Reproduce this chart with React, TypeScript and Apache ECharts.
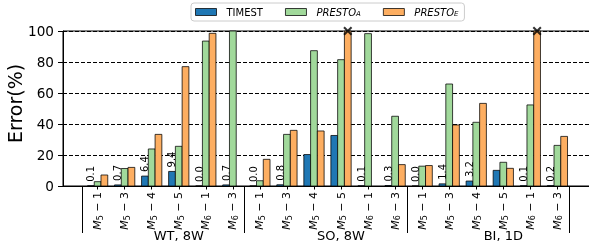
import React, { useEffect, useRef } from "react";
import * as echarts from "echarts";

const GROUPS = ["WT, 8W", "SO, 8W", "BI, 1D"];
const SUBCATS = ["M5-1", "M5-3", "M5-4", "M5-5", "M6-1", "M6-3"];
const CATEGORIES = GROUPS.flatMap(() => SUBCATS);

const TIMEST = [0.1, 0.7, 6.4, 9.4, 0.0, 0.7, 0.0, 0.8, 20.3, 32.6, 0.1, 0.3, 0.0, 1.4, 3.2, 10.1, 0.1, 0.2];
const PRESTO_A = [2.8, 11.3, 23.9, 25.6, 93.5, 100, 3.4, 33.3, 87.3, 81.5, 98.3, 45.0, 12.8, 65.8, 41.1, 15.3, 52.3, 26.2];
const PRESTO_E: (number | null)[] = [7.1, 12.0, 33.3, 77.0, 98.5, null, 17.2, 35.9, 35.5, 100, null, 13.8, 13.2, 39.4, 53.3, 11.4, 100, 32.0];
// indices of PRESTO_E bars that exceed the axis (marked with an x)
const OVERFLOW_E = [9, 16];

const Y_TICKS = [0, 20, 40, 60, 80, 100];
const GROUP_LABEL_AT = [3, 9, 15];
const SEPARATORS = [-0.56, 5.44, 11.44, 17.44];

const FONT = "DejaVu Sans";
const COLORS = ["#1f77b4", "#a1d99b", "#fdae61"];
const OFFSETS = [-0.25, 0, 0.25];
const BAR_W = 0.25;
const X_MIN = -1.28;
const X_MAX = 18.28;

function subLabel(s: string) {
  const [a, b] = s.slice(1).split("-");
  return `{m|M}{s|${a}}{t| − ${b}}`;
}

export default function App() {
  const ref = useRef<HTMLDivElement>(null);
  useEffect(() => {
    const chart = echarts.init(ref.current!, null, { renderer: "svg" });
    const idx = CATEGORIES.map((_, i) => i);
    const mkBar = (name: string, vals: (number | null)[], k: number, labels: boolean) => ({
      name,
      type: "custom",
      xAxisIndex: 0,
      yAxisIndex: 0,
      encode: { x: 0, y: 1 },
      itemStyle: { color: COLORS[k], borderColor: "rgba(0,0,0,0.75)", borderWidth: 1 },
      data: vals
        .map((v, i) => (v === null ? null : [i + OFFSETS[k], v, labels && v < 10 ? 1 : 0]))
        .filter((d) => d !== null),
      renderItem: (params: any, api: any) => {
        const x = api.value(0);
        const v = api.value(1);
        const show = api.value(2);
        const base = api.coord([x, 0]);
        const top = api.coord([x, v]);
        const w = api.size([BAR_W, 0])[0];
        const children: any[] = [
          {
            type: "rect",
            shape: { x: base[0] - w / 2, y: top[1], width: w, height: base[1] - top[1] },
            style: { fill: COLORS[k], stroke: "rgba(0,0,0,0.75)", lineWidth: 1 },
          },
        ];
        if (show) {
          children.push({
            type: "text",
            x: base[0],
            y: top[1] - 4,
            rotation: Math.PI / 2,
            style: {
              text: v.toFixed(1),
              align: "left",
              verticalAlign: "middle",
              fontSize: 10,
              fontFamily: FONT,
              fill: "#000",
            },
          });
        }
        return { type: "group", children };
      },
    });
    const option: any = {
      animation: false,
      textStyle: { fontFamily: FONT },
      grid: {
        left: 63,
        right: -3,
        top: 31,
        bottom: 62,
        outerBoundsMode: "none",
        containLabel: false,
        show: true,
        borderColor: "#000",
        borderWidth: 1,
        backgroundColor: "transparent",
      },
      legend: {
        left: 191,
        top: 3,
        padding: [4, 6, 4, 4],
        itemWidth: 21,
        itemHeight: 7,
        itemGap: 22,
        borderColor: "#cccccc",
        borderWidth: 1,
        borderRadius: 3,
        backgroundColor: "#fff",
        data: ["TIMEST", "PRESTO_A", "PRESTO_E"].map((n, k) => ({
          name: n,
          icon: "rect",
          itemStyle: { color: COLORS[k], borderColor: "rgba(0,0,0,0.75)", borderWidth: 1 },
        })),
        formatter: (name: string) =>
          name === "TIMEST" ? "{n|TIMEST}" : `{i|PRESTO}{s|${name.slice(-1)}}`,
        textStyle: {
          fontFamily: FONT,
          color: "#000",
          rich: {
            n: { fontSize: 10, fontFamily: FONT, padding: [0, 0, 0, 5], color: "#000" },
            i: { fontSize: 10, fontFamily: FONT, fontStyle: "italic", padding: [0, 0, 0, 5], color: "#000" },
            s: { fontSize: 7, fontFamily: FONT, fontStyle: "italic", verticalAlign: "bottom", lineHeight: 8, color: "#000" },
          },
        },
      },
      xAxis: [
        {
          type: "value",
          min: X_MIN,
          max: X_MAX,
          axisLine: { show: true, onZero: false, lineStyle: { color: "#000", width: 1 } },
          splitLine: { show: false },
          axisTick: { show: true, customValues: idx, length: 3.5, lineStyle: { color: "#000" } },
          axisLabel: {
            show: true,
            customValues: idx,
            rotate: 90,
            margin: 6,
            formatter: (v: number) => subLabel(CATEGORIES[Math.round(v)] || ""),
            rich: {
              m: { fontSize: 11, fontStyle: "italic", fontFamily: FONT, color: "#000", lineHeight: 13 },
              s: { fontSize: 8, fontFamily: FONT, color: "#000", verticalAlign: "bottom", lineHeight: 8 },
              t: { fontSize: 11, fontFamily: FONT, color: "#000", lineHeight: 13 },
            },
          },
        },
        {
          type: "value",
          min: X_MIN,
          max: X_MAX,
          position: "bottom",
          offset: 0,
          axisLine: { show: false, onZero: false },
          splitLine: { show: false },
          axisTick: { show: true, customValues: SEPARATORS, length: 47, lineStyle: { color: "#000", width: 1 } },
          axisLabel: { show: false },
        },
        {
          type: "value",
          min: X_MIN,
          max: X_MAX,
          position: "bottom",
          offset: 0,
          axisLine: { show: false, onZero: false },
          splitLine: { show: false },
          axisTick: { show: false },
          axisLabel: {
            show: true,
            customValues: GROUP_LABEL_AT,
            margin: 43,
            fontSize: 13,
            fontFamily: FONT,
            color: "#000",
            formatter: (v: number) => GROUPS[Math.round((v - 3) / 6)] || "",
          },
        },
      ],
      yAxis: {
        type: "value",
        min: Y_TICKS[0],
        max: Y_TICKS[Y_TICKS.length - 1],
        interval: 20,
        name: "Error(%)",
        nameLocation: "middle",
        nameGap: 39,
        nameMoveOverlap: false,
        nameTextStyle: { fontSize: 19, fontFamily: FONT, color: "#000", padding: [0, 0, 0, 10] },
        axisLine: { show: true, onZero: false, lineStyle: { color: "#000", width: 1 } },
        axisTick: { show: true, length: 5, lineStyle: { color: "#000" } },
        axisLabel: { fontSize: 13.6, fontFamily: FONT, color: "#000", margin: 9 },
        splitLine: { show: true, lineStyle: { color: "#000", type: [4, 2], width: 1 } },
      },
      series: [
        mkBar("TIMEST", TIMEST, 0, true),
        mkBar("PRESTO_A", PRESTO_A, 1, false),
        mkBar("PRESTO_E", PRESTO_E, 2, false),
        {
          type: "scatter",
          name: "overflow",
          xAxisIndex: 0,
          clip: false,
          z: 5,
          symbol:
            "path://M0,1.6 L1.6,0 L5,3.4 L8.4,0 L10,1.6 L6.6,5 L10,8.4 L8.4,10 L5,6.6 L1.6,10 L0,8.4 L3.4,5 Z",
          symbolSize: 9,
          itemStyle: { color: "#000" },
          data: OVERFLOW_E.map((i) => [i + OFFSETS[2], PRESTO_E[i]]),
        },
      ],
    };
    chart.setOption(option);
    return () => chart.dispose();
  }, []);
  return <div ref={ref} style={{ position: "fixed", left: 0, top: 0, width: 589, height: 248 }} />;
}
